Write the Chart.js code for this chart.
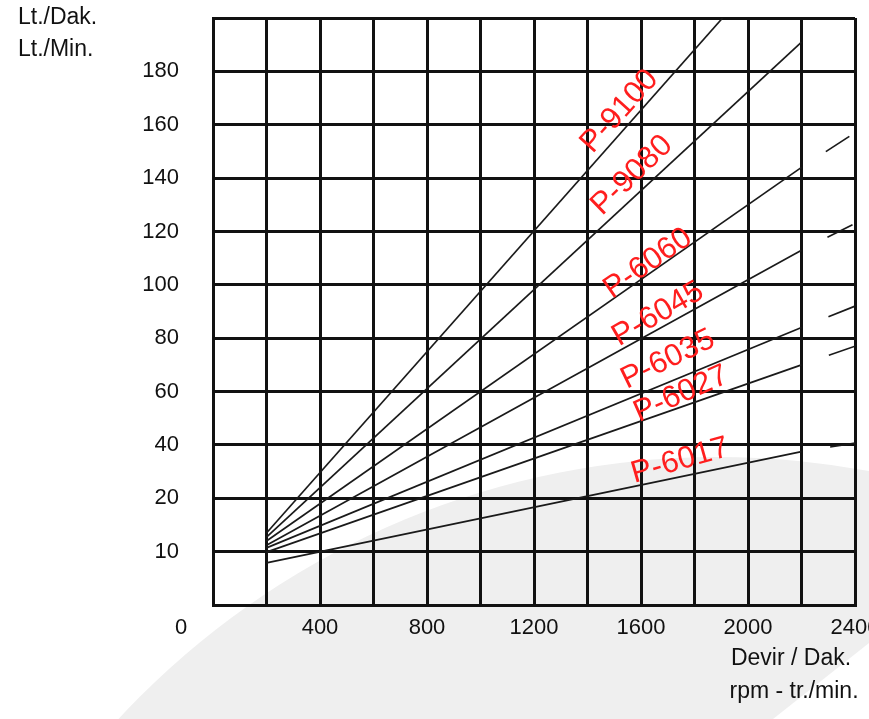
<!DOCTYPE html>
<html>
<head>
<meta charset="utf-8">
<script src="https://cdn.jsdelivr.net/npm/chart.js@4.4.1/dist/chart.umd.min.js"></script>
<style>
    html, body { margin: 0; padding: 0; background: #fff; }
    #wrap { width: 869px; height: 719px; }
</style>
</head>
<body>
<div id="wrap"><canvas id="chart"></canvas></div>
<script>
(function () {
    // y axis is not linear: first row is 0-10, the rest 20 per row
    const flowTicks = [0, 10, 20, 40, 60, 80, 100, 120, 140, 160, 180, 200];
    const flowTickLabels = ['', '10', '20', '40', '60', '80', '100', '120', '140', '160', '180', ''];
    const rpmTickLabels = [400, 800, 1200, 1600, 2000, 2400];

    const seriesNames = ['P-9100', 'P-9080', 'P-6060', 'P-6045', 'P-6035', 'P-6027', 'P-6017'];

    const rpm9100 = [200, 1905];
    const flow9100 = [13.5, 200];
    const rpm9080 = [200, 2200];
    const flow9080 = [12.7, 191];
    const rpmPump = [200, 2200, 2400];
    const flow6060 = [12.0, 144, 157];
    const flow6045 = [11.2, 113, 123];
    const flow6035 = [10.7, 84, 92];
    const flow6027 = [9.9, 70, 77];
    const flow6017 = [7.9, 37.5, 40.7];

    // where the red names sit (rpm, flow) and their tilt
    const labelRpm = [1520, 1566, 1626, 1664, 1701, 1750, 1746];
    const labelFlow = [165, 141, 108, 89, 72, 59, 34];
    const labelAngle = [-48, -44, -35, -30, -26, -24, -16];

    const lineColor = '#1a1a1a';
    const gridColor = '#111111';
    const textColor = '#111111';
    const fontFamily = '"Liberation Sans", Arial, sans-serif';

    function flowToPos(v) {
        for (let i = 0; i < flowTicks.length - 1; i++) {
            if (v <= flowTicks[i + 1]) {
                return i + (v - flowTicks[i]) / (flowTicks[i + 1] - flowTicks[i]);
            }
        }
        return flowTicks.length - 1;
    }

    function toPoints(rpm, flow) {
        return rpm.map(function (r, i) {
            return { x: r, y: flowToPos(flow[i]) };
        });
    }

    function noPadding(scale) {
        scale.paddingLeft = 0;
        scale.paddingRight = 0;
        scale.paddingTop = 0;
        scale.paddingBottom = 0;
    }

    const seriesData = [
        toPoints(rpm9100, flow9100),
        toPoints(rpm9080, flow9080),
        toPoints(rpmPump, flow6060),
        toPoints(rpmPump, flow6045),
        toPoints(rpmPump, flow6035),
        toPoints(rpmPump, flow6027),
        toPoints(rpmPump, flow6017)
    ];

    const backdrop = {
        id: 'backdrop',
        beforeDraw: function (chart) {
            const ctx = chart.ctx;
            ctx.save();
            ctx.fillStyle = '#ffffff';
            ctx.fillRect(0, 0, chart.width, chart.height);
            ctx.fillStyle = '#efefef';
            ctx.beginPath();
            ctx.arc(718, 1274, 817, 0, Math.PI * 2);
            ctx.fill();
            ctx.fillStyle = '#ffffff';
            ctx.beginPath();
            ctx.moveTo(869, 643);
            ctx.lineTo(869, 719);
            ctx.lineTo(773, 719);
            ctx.closePath();
            ctx.fill();
            ctx.restore();
        }
    };

    const captions = {
        id: 'captions',
        afterDatasetsDraw: function (chart) {
            const ctx = chart.ctx;
            const area = chart.chartArea;
            const xs = chart.scales.x;
            const ys = chart.scales.y;
            ctx.save();
            ctx.fillStyle = textColor;
            ctx.textBaseline = 'middle';
            ctx.font = '23px ' + fontFamily;
            ctx.textAlign = 'left';
            ctx.fillText('Lt./Dak.', 18, 18);
            ctx.fillText('Lt./Min.', 18, 50);
            ctx.textAlign = 'center';
            ctx.fillText('Devir / Dak.', 791, 659);
            ctx.fillText('rpm - tr./min.', 794, 692);
            ctx.font = '22px ' + fontFamily;
            ctx.fillText('0', area.left - 32, area.bottom + 23);

            ctx.fillStyle = '#ff1e1e';
            ctx.font = '31px ' + fontFamily;
            seriesNames.forEach(function (name, i) {
                const x = xs.getPixelForValue(labelRpm[i]);
                const y = ys.getPixelForValue(flowToPos(labelFlow[i]));
                ctx.save();
                ctx.translate(x, y);
                ctx.rotate(labelAngle[i] * Math.PI / 180);
                ctx.fillText(name, 0, 0);
                ctx.restore();
            });
            ctx.restore();
        }
    };

    new Chart(document.getElementById('chart').getContext('2d'), {
        type: 'line',
        data: {
            datasets: seriesNames.map(function (name, i) {
                return {
                    label: name,
                    data: seriesData[i],
                    borderColor: lineColor,
                    borderWidth: 1.7,
                    pointRadius: 0,
                    tension: 0,
                    fill: false,
                    segment: {
                        borderDash: function (c) {
                            return c.p0.parsed.x >= 2200 ? [0, 29, 28, 300] : undefined;
                        }
                    }
                };
            })
        },
        options: {
            responsive: true,
            maintainAspectRatio: false,
            animation: false,
            devicePixelRatio: 1,
            layout: {
                autoPadding: false,
                padding: { left: 0, top: 18, right: 14, bottom: 0 }
            },
            plugins: {
                legend: { display: false },
                tooltip: { enabled: false }
            },
            scales: {
                x: {
                    type: 'linear',
                    min: 0,
                    max: 2400,
                    afterFit: function (scale) {
                        scale.height = 114;
                        noPadding(scale);
                    },
                    ticks: {
                        stepSize: 200,
                        autoSkip: false,
                        maxRotation: 0,
                        padding: 10,
                        color: textColor,
                        font: { family: fontFamily, size: 22 },
                        callback: function (v) {
                            return rpmTickLabels.indexOf(v) >= 0 ? String(v) : '';
                        }
                    },
                    grid: { color: gridColor, lineWidth: 3, drawTicks: false },
                    border: { color: gridColor, width: 3 }
                },
                y: {
                    type: 'linear',
                    min: 0,
                    max: flowTicks.length - 1,
                    afterFit: function (scale) {
                        scale.width = 213;
                        noPadding(scale);
                    },
                    ticks: {
                        stepSize: 1,
                        autoSkip: false,
                        padding: 34,
                        color: textColor,
                        font: { family: fontFamily, size: 22 },
                        callback: function (v) {
                            return flowTickLabels[v] || '';
                        }
                    },
                    grid: { color: gridColor, lineWidth: 3, drawTicks: false },
                    border: { color: gridColor, width: 3 }
                }
            }
        },
        plugins: [backdrop, captions]
    });
})();
</script>
</body>
</html>
